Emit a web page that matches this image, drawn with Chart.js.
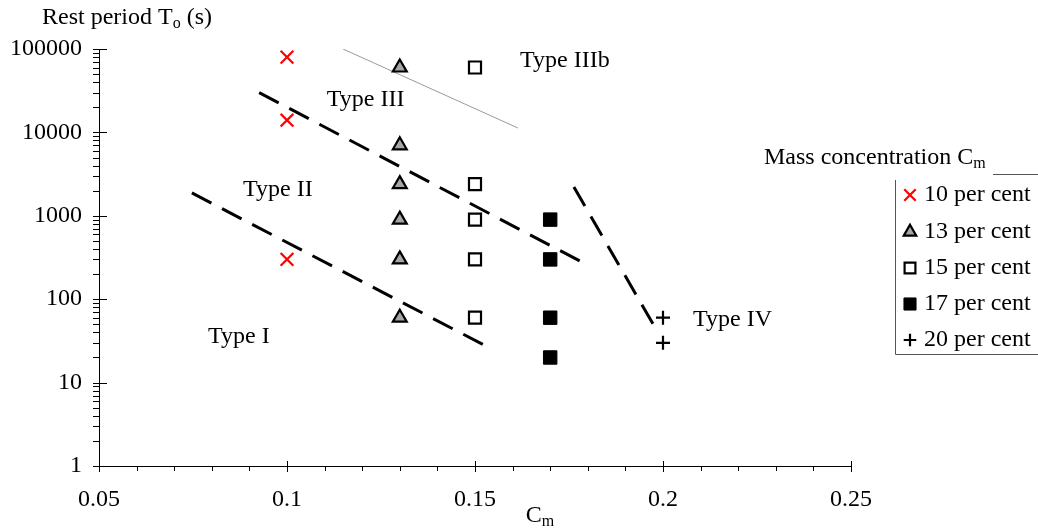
<!DOCTYPE html>
<html><head><meta charset="utf-8">
<script src="https://cdn.jsdelivr.net/npm/chart.js@4/dist/chart.umd.min.js"></script>
<style>html,body{margin:0;padding:0;background:#fff}canvas{display:block}</style>
</head><body>
<canvas id="c" width="1038" height="530"></canvas>
<script>
// ---- data ----
const xTicks = [0.05, 0.10, 0.15, 0.20, 0.25];
const yTicks = [1, 10, 100, 1000, 10000, 100000];
const seriesNames = ['10 per cent', '13 per cent', '15 per cent', '17 per cent', '20 per cent'];
const s10 = [{x:0.10,y:80000},{x:0.10,y:14000},{x:0.10,y:300}];
const s13 = [{x:0.13,y:60000},{x:0.13,y:7000},{x:0.13,y:2400},{x:0.13,y:900},{x:0.13,y:300},{x:0.13,y:60}];
const s15 = [{x:0.15,y:60000},{x:0.15,y:2400},{x:0.15,y:900},{x:0.15,y:300},{x:0.15,y:60}];
const s17 = [{x:0.17,y:900},{x:0.17,y:300},{x:0.17,y:60},{x:0.17,y:20}];
const s20 = [{x:0.20,y:60},{x:0.20,y:30}];
const boundaryI_II = [{x:0.0747,y:1880},{x:0.1532,y:27}];
const boundaryII_III = [{x:0.0926,y:30000},{x:0.179,y:270}];
const boundaryIV = [{x:0.1763,y:2215},{x:0.1981,y:44}];
const boundaryIIIb = [{x:0.1149,y:100000},{x:0.1614,y:11300}];
const regionLabels = [
  {text:'Type IIIb', x:0.162, y:71800},
  {text:'Type III', x:0.1106, y:24450},
  {text:'Type II', x:0.0883, y:2040},
  {text:'Type I', x:0.079, y:35.2},
  {text:'Type IV', x:0.208, y:56.3}
];

const FONT = '"Liberation Serif", "Times New Roman", serif';
const FS = 24;

const markerStyles = [
  {pointStyle:'crossRot', radius:9, borderWidth:2.2, borderColor:'#ff0000', backgroundColor:'#ff0000'},
  {pointStyle:'triangle', radius:8, borderWidth:2.2, borderColor:'#000', backgroundColor:'#a6a6a6'},
  {pointStyle:'rect', radius:8.5, borderWidth:2.2, borderColor:'#000', backgroundColor:'#fff'},
  {pointStyle:'rect', radius:9.5, borderWidth:1, borderColor:'#000', backgroundColor:'#000'},
  {pointStyle:'cross', radius:7, borderWidth:2.2, borderColor:'#000', backgroundColor:'#000'}
];
const seriesData = [s10, s13, s15, s17, s20];

const datasets = seriesData.map((d,i)=>Object.assign({
  label: seriesNames[i], data: d, showLine:false, pointHoverRadius: markerStyles[i].radius
}, markerStyles[i]));

function lineDs(d, dash, w, col){
  return {data:d, showLine:true, borderDash:dash, borderWidth:w, borderColor:col,
    pointRadius:0, fill:false, tension:0, order:10};
}
datasets.push(lineDs(boundaryI_II,[22,12],3,'#000'));
datasets.push(lineDs(boundaryII_III,[22,12],3,'#000'));
datasets.push(lineDs(boundaryIV,[22,12],3,'#000'));
datasets.push(lineDs(boundaryIIIb,[],1,'#9a9a9a'));

function drawRich(ctx, parts, x, y, align){
  ctx.textBaseline = 'middle';
  let total = 0;
  parts.forEach(p=>{ctx.font = (p.sub? Math.round(FS*0.68):FS)+'px '+FONT; total += ctx.measureText(p.t).width;});
  let cx = align==='center' ? x - total/2 : x;
  ctx.textAlign = 'left';
  parts.forEach(p=>{
    ctx.font = (p.sub? Math.round(FS*0.68):FS)+'px '+FONT;
    ctx.fillText(p.t, cx, p.sub ? y+6 : y);
    cx += ctx.measureText(p.t).width;
  });
}

function drawMarker(ctx, st, x, y){
  if (Chart.helpers && Chart.helpers.drawPoint){
    ctx.save();
    ctx.fillStyle = st.backgroundColor; ctx.strokeStyle = st.borderColor; ctx.lineWidth = st.borderWidth;
    Chart.helpers.drawPoint(ctx, {pointStyle:st.pointStyle, radius:st.radius, rotation:0, borderWidth:st.borderWidth}, x, y);
    ctx.restore();
  }
}

const decor = {
  id:'decor',
  afterDraw(chart){
    const ctx = chart.ctx, xs = chart.scales.x, ys = chart.scales.y;
    const ax = xs.getPixelForValue(0.05), ay = ys.getPixelForValue(1);
    ctx.save();
    ctx.strokeStyle = '#000'; ctx.lineWidth = 1;
    ctx.beginPath();
    for (let k=0;k<=20;k++){
      const v = 0.05 + k*0.01; const px = Math.round(xs.getPixelForValue(v))+0.5;
      if (k%5===0){ ctx.moveTo(px, ay-5); ctx.lineTo(px, ay+6); }
      else { ctx.moveTo(px, ay); ctx.lineTo(px, ay+5); }
    }
    for (let e=0;e<=5;e++){
      const py = Math.round(ys.getPixelForValue(Math.pow(10,e)))+0.5;
      ctx.moveTo(ax-6, py); ctx.lineTo(ax+8, py);
      if (e<5) for (let m=2;m<=9;m++){
        const pm = Math.round(ys.getPixelForValue(m*Math.pow(10,e)))+0.5;
        ctx.moveTo(ax-6, pm); ctx.lineTo(ax, pm);
      }
    }
    ctx.stroke();
    ctx.fillStyle = '#000';
    drawRich(ctx, [{t:'Rest period T'},{t:'o',sub:true},{t:' (s)'}], 42, 18, 'left');
    drawRich(ctx, [{t:'C'},{t:'m',sub:true}], 540, 516, 'center');
    regionLabels.forEach(l=>{
      drawRich(ctx, [{t:l.text}], xs.getPixelForValue(l.x), ys.getPixelForValue(l.y), 'left');
    });
    drawRich(ctx, [{t:'Mass concentration C'},{t:'m',sub:true}], 764, 158, 'left');
    ctx.beginPath();
    ctx.moveTo(993, 174.5); ctx.lineTo(1038, 174.5);
    ctx.moveTo(895.5, 180); ctx.lineTo(895.5, 354.5); ctx.lineTo(1038, 354.5);
    ctx.strokeStyle = '#555'; ctx.lineWidth = 1; ctx.stroke();
    const rows = [195, 232, 268, 304, 340];
    seriesNames.forEach((n,i)=>{
      const st = Object.assign({}, markerStyles[i]);
      st.radius = st.radius*0.9;
      drawMarker(ctx, st, 910, rows[i]);
      ctx.fillStyle = '#000';
      drawRich(ctx, [{t:n}], 924, rows[i], 'left');
    });
    ctx.restore();
  }
};

new Chart(document.getElementById('c'), {
  type:'scatter',
  data:{datasets},
  options:{
    responsive:false, animation:false, devicePixelRatio:1,
    layout:{padding:{left:0, top:49, right:187, bottom:0}},
    plugins:{legend:{display:false}, tooltip:{enabled:false}},
    scales:{
      x:{type:'linear', min:0.05, max:0.25,
        afterBuildTicks:(s)=>{s.ticks = xTicks.map(v=>({value:v}));},
        afterFit:(s)=>{s.height = 64;},
        grid:{display:false, drawTicks:false},
        border:{display:true, color:'#000', width:1},
        ticks:{padding:19, color:'#000', font:{family:FONT, size:FS},
          callback:(v)=>String(Math.round(v*100)/100)}
      },
      y:{type:'logarithmic', min:1, max:100000,
        afterBuildTicks:(s)=>{s.ticks = yTicks.map(v=>({value:v}));},
        afterFit:(s)=>{s.width = 99;},
        grid:{display:false, drawTicks:false},
        border:{display:true, color:'#000', width:1},
        ticks:{padding:17, color:'#000', autoSkip:false, font:{family:FONT, size:FS},
          callback:(v)=>String(v)}
      }
    }
  },
  plugins:[decor]
});
</script>
</body></html>
